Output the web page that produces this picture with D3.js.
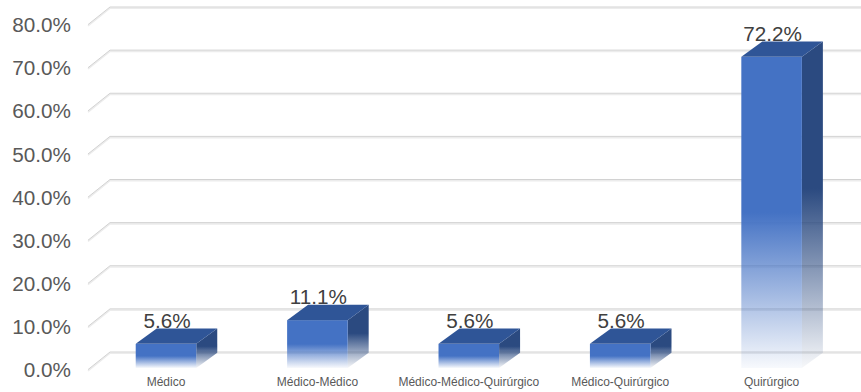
<!DOCTYPE html>
<html>
<head>
<meta charset="utf-8">
<script src="https://cdn.jsdelivr.net/npm/d3@7"></script>
<style>
  html, body { margin: 0; padding: 0; background: #ffffff; }
  svg { display: block; }
  text { font-family: "Liberation Sans", Arial, sans-serif; }
</style>
</head>
<body>
<svg id="chart" width="861" height="392"></svg>
<script>
// Share of cases by type of care team
const categories = ["Médico", "Médico-Médico", "Médico-Médico-Quirúrgico", "Médico-Quirúrgico", "Quirúrgico"];
const shares = [0.056, 0.111, 0.056, 0.056, 0.722];
const tickValues = [0, 0.1, 0.2, 0.3, 0.4, 0.5, 0.6, 0.7, 0.8];

const W = 861, H = 392;
const svg = d3.select("#chart");

// Perspective offsets for the pseudo-3D look
const floorDx = 22, floorDy = 17.6;   // front edge -> back wall
const barDx = 21, barDy = 15.3;       // bar front face -> bar back face

// Back-wall gridline scale, front-edge scale (for tick labels), bar front-face scale
const yBack = d3.scaleLinear().domain([0, 0.8]).range([352, 7]);
const yFront = d3.scaleLinear().domain([0, 0.8]).range([352 + floorDy, 7 + floorDy]);
const yBar = d3.scaleLinear().domain([0, 0.8]).range([368, 368 - 344.8]);

const x = d3.scaleBand()
  .domain(categories)
  .range([90.3, 847.3])
  .paddingInner(0.6)
  .paddingOuter(0.3);

const defs = svg.append("defs");
function fade(id, color, opaqueTo) {
  const g = defs.append("linearGradient")
    .attr("id", id).attr("x1", 0).attr("y1", 0).attr("x2", 0).attr("y2", 1);
  g.append("stop").attr("offset", 0).attr("stop-color", color).attr("stop-opacity", 1);
  g.append("stop").attr("offset", opaqueTo).attr("stop-color", color).attr("stop-opacity", 1);
  g.append("stop").attr("offset", 1).attr("stop-color", color).attr("stop-opacity", 0.04);
}
fade("frontFade", "#4472c4", 0.5);
fade("sideFade", "#2b4a80", 0.45);

// Gridlines: back-wall line plus a short diagonal toward the front edge
const grid = svg.append("g");
tickValues.forEach(t => {
  const yb = yBack(t);
  const pts = [[88, yb + floorDy], [88 + floorDx, yb], [W, yb]];
  grid.append("path")
    .attr("d", d3.line()(pts.map(p => [p[0], p[1] + 1.2])))
    .attr("fill", "none").attr("stroke", "#ececec").attr("stroke-width", 1.6);
  grid.append("path")
    .attr("d", d3.line()(pts))
    .attr("fill", "none").attr("stroke", "#d2d2d2").attr("stroke-width", 1);
});

// Y axis labels at the front edge
const yAxis = d3.axisLeft(yFront)
  .tickValues(tickValues)
  .tickFormat(d3.format(".1%"))
  .tickSize(0).tickPadding(0);
const yG = svg.append("g").attr("transform", "translate(71,0)").call(yAxis);
yG.select(".domain").remove();
yG.selectAll("text")
  .attr("font-size", "20.7px")
  .attr("fill", "#595959")
  .attr("font-family", "'Liberation Sans', Arial, sans-serif")
  .attr("dy", "0.34em");

// Bars
const bars = svg.append("g").selectAll("g").data(categories.map((c, i) => ({ c, v: shares[i] })))
  .join("g");

bars.each(function (d) {
  const g = d3.select(this);
  const x0 = x(d.c), x1 = x0 + x.bandwidth();
  const yt = yBar(d.v), yb = yBar(0);
  // side face
  g.append("path")
    .attr("d", d3.line()([[x1, yt], [x1 + barDx, yt - barDy], [x1 + barDx, yb - barDy], [x1, yb]]) + "Z")
    .attr("fill", "url(#sideFade)");
  // front face
  g.append("rect")
    .attr("x", x0).attr("y", yt)
    .attr("width", x1 - x0).attr("height", yb - yt)
    .attr("fill", "url(#frontFade)");
  // top face
  g.append("path")
    .attr("d", d3.line()([[x0, yt], [x0 + barDx, yt - barDy], [x1 + barDx, yt - barDy], [x1, yt]]) + "Z")
    .attr("fill", "#2f5597");
  // value label
  g.append("text")
    .attr("x", (x0 + x1) / 2 + 1)
    .attr("y", yt - barDy - 1)
    .attr("text-anchor", "middle")
    .attr("font-size", "20.7px")
    .attr("fill", "#404040")
    .text(d3.format(".1%")(d.v));
});

// Category labels
const xAxis = d3.axisBottom(x).tickSize(0).tickPadding(0);
const xG = svg.append("g").attr("transform", "translate(0,377.4)").call(xAxis);
xG.select(".domain").remove();
xG.selectAll("text")
  .attr("font-size", "12px")
  .attr("fill", "#595959")
  .attr("font-family", "'Liberation Sans', Arial, sans-serif");
</script>
</body>
</html>
